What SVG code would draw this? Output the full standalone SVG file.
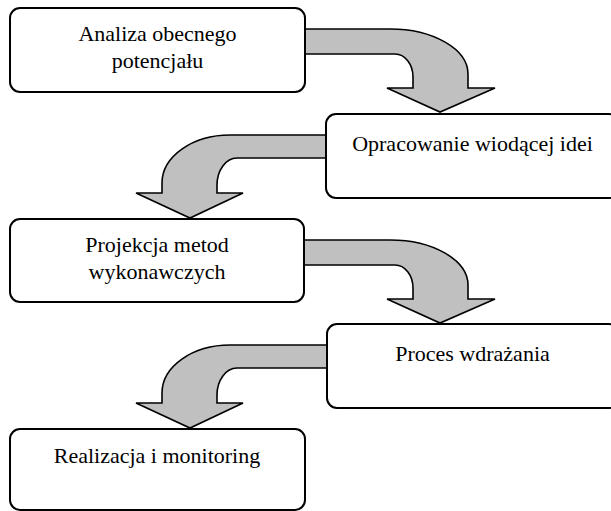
<svg xmlns="http://www.w3.org/2000/svg" width="611" height="511" viewBox="0 0 611 511">
<style>
.box{fill:#fff;stroke:#000;stroke-width:2}
.arr{fill:#c0c0c0;stroke:#000;stroke-width:1.6;stroke-linejoin:miter}
.t{font-family:"Liberation Serif","Times New Roman",serif;font-size:22px;fill:#000;text-anchor:middle}
</style>
<defs>
<path id="arrR" d="M300,29 L390,29 A78,45 0 0 1 468,74 L468,88 L495,88 L440,112 L387,88 L413,88 L413,77 A18,23 0 0 0 395,54 L300,54 Z"/>
<path id="arrL" d="M330,135 L230,135 A68,48 0 0 0 162,183 L162,193 L136,193 L190,218 L243,193 L217,193 L217,185 A20,27 0 0 1 237,158 L330,158 Z"/>
</defs>
<rect width="611" height="511" fill="#fff"/>
<g id="connectors">
<use href="#arrR" class="arr"/>
<use href="#arrL" class="arr"/>
<use href="#arrR" class="arr" transform="translate(0,211)"/>
<use href="#arrL" class="arr" transform="translate(0,210)"/>
</g>
<g id="n1">
<rect class="box" x="10" y="8" width="295" height="84" rx="10"/>
<text class="t" x="157.5" y="41">Analiza obecnego</text>
<text class="t" x="157.5" y="68">potencjału</text>
</g>
<g id="n2">
<rect class="box" x="326" y="114" width="293" height="84" rx="10"/>
<text class="t" x="472.5" y="151">Opracowanie wiodącej idei</text>
</g>
<g id="n3">
<rect class="box" x="10" y="219" width="294" height="83" rx="10"/>
<text class="t" x="157" y="252">Projekcja metod</text>
<text class="t" x="157" y="279">wykonawczych</text>
</g>
<g id="n4">
<rect class="box" x="327" y="324" width="292" height="84" rx="10"/>
<text class="t" x="472.5" y="361">Proces wdrażania</text>
</g>
<g id="n5">
<rect class="box" x="10" y="429" width="295" height="81" rx="10"/>
<text class="t" x="157" y="463">Realizacja i monitoring</text>
</g>
</svg>
